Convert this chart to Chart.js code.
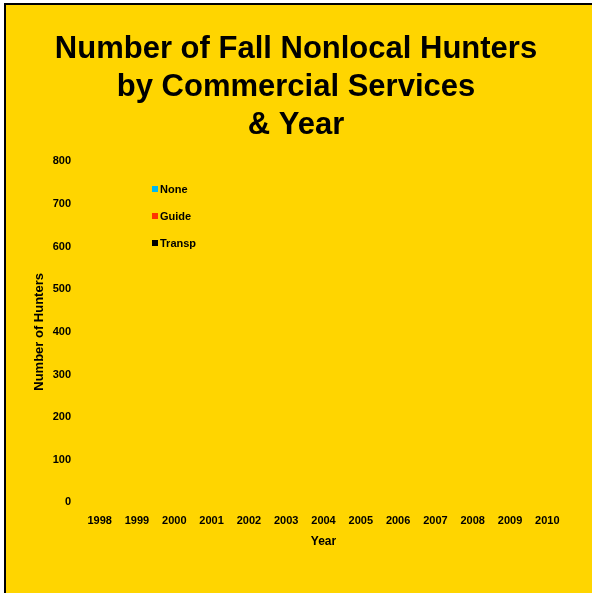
<!DOCTYPE html>
<html lang="en">

<head>
    <meta charset="UTF-8">
    <title>Number of Fall Nonlocal Hunters</title>
    <script src="https://cdn.jsdelivr.net/npm/chart.js"></script>
    <style>
        body {
            margin: 0;
            padding: 0;
            background-color: #fff;
            overflow: hidden;
        }

        #frame {
            position: absolute;
            left: 4px;
            top: 3px;
            width: 586px;
            height: 588px;
            background-color: #FFD500;
            border-top: 2px solid #000;
            border-left: 2px solid #000;
        }

        canvas {
            display: block;
        }
    </style>
</head>

<body>

    <div id="frame">
        <canvas id="huntersChart" width="586" height="588"></canvas>
    </div>

    <script>
        // categories
        const years = ['1998', '1999', '2000', '2001', '2002', '2003', '2004',
                       '2005', '2006', '2007', '2008', '2009', '2010'];
        // series values (no bars are visible in the reference, so nothing is drawn)
        const noneHunters   = [null, null, null, null, null, null, null, null, null, null, null, null, null];
        const guideHunters  = [null, null, null, null, null, null, null, null, null, null, null, null, null];
        const transpHunters = [null, null, null, null, null, null, null, null, null, null, null, null, null];
        // y tick values
        const yTicks = [0, 100, 200, 300, 400, 500, 600, 700, 800];

        const tickFont = { family: 'Liberation Sans, Arial, sans-serif', size: 11, weight: 'bold' };

        // legend drawn inside the plot area, like the original
        const innerLegend = {
            id: 'innerLegend',
            afterDraw(chart, args, opts) {
                const ctx = chart.ctx;
                ctx.save();
                ctx.font = 'bold 11px "Liberation Sans", Arial, sans-serif';
                ctx.textBaseline = 'middle';
                chart.data.datasets.forEach((ds, i) => {
                    const y = opts.y + i * opts.step;
                    ctx.fillStyle = ds.backgroundColor;
                    ctx.fillRect(opts.x, y - 3, 6, 6);
                    ctx.fillStyle = '#000';
                    ctx.fillText(ds.label, opts.x + 8, y + 0.5);
                });
                ctx.restore();
            }
        };

        const ctx = document.getElementById('huntersChart').getContext('2d');

        new Chart(ctx, {
            type: 'bar',
            data: {
                labels: years,
                datasets: [
                    { label: 'None', data: noneHunters, backgroundColor: '#00B8F0' },
                    { label: 'Guide', data: guideHunters, backgroundColor: '#FF3300' },
                    { label: 'Transp', data: transpHunters, backgroundColor: '#000000' }
                ]
            },
            options: {
                responsive: false,
                animation: false,
                layout: {
                    padding: { left: 20, right: 26, top: 0, bottom: 40 }
                },
                plugins: {
                    legend: { display: false },
                    tooltip: { enabled: false },
                    title: {
                        display: true,
                        text: ['Number of Fall Nonlocal Hunters', 'by Commercial Services', '& Year'],
                        color: '#000',
                        font: { family: 'Liberation Sans, Arial, sans-serif', size: 31, weight: 'bold', lineHeight: 1.23 },
                        padding: { top: 25, bottom: 17 }
                    },
                    innerLegend: { x: 146, y: 184, step: 27 }
                },
                scales: {
                    x: {
                        grid: { display: false, drawTicks: false },
                        border: { display: false },
                        ticks: { color: '#000', font: tickFont, padding: 12, maxRotation: 0, autoSkip: false },
                        title: {
                            display: true,
                            text: 'Year',
                            color: '#000',
                            font: { family: 'Liberation Sans, Arial, sans-serif', size: 12, weight: 'bold' },
                            padding: { top: -5, bottom: 4 }
                        }
                    },
                    y: {
                        min: 0,
                        max: 800,
                        afterBuildTicks: (scale) => {
                            scale.ticks = yTicks.map(v => ({ value: v }));
                        },
                        afterFit: (scale) => {
                            scale.width = 55;
                        },
                        grid: { display: false, drawTicks: false },
                        border: { display: false },
                        ticks: { color: '#000', font: tickFont, padding: 10 },
                        title: {
                            display: true,
                            text: 'Number of Hunters',
                            color: '#000',
                            font: { family: 'Liberation Sans, Arial, sans-serif', size: 13, weight: 'bold' },
                            padding: { top: 6, bottom: 4 }
                        }
                    }
                }
            },
            plugins: [innerLegend]
        });
    </script>

</body>

</html>
